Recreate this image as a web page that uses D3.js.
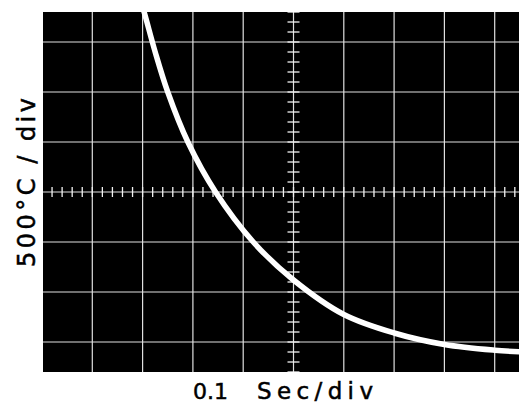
<!DOCTYPE html>
<html>
<head>
<meta charset="utf-8">
<script src="https://cdn.jsdelivr.net/npm/d3@7"></script>
<style>
  html, body { margin: 0; padding: 0; background: #fff; }
  svg { display: block; }
</style>
</head>
<body>
<div id="chart"></div>
<script>
// scope trace: time (s) vs temperature (°C)
const timeSec = [0.185, 0.203, 0.225, 0.250, 0.290, 0.345, 0.420, 0.500, 0.600, 0.700, 0.800, 0.900, 1.0]
const tempC = [4100, 3800, 3400, 3000, 2500, 2000, 1500, 1120, 775, 590, 475, 418, 388]

// graticule: 10 x 0.1 s, 8 x 500 °C
const xDivs = d3.range(0, 1.0001, 0.1)
const yDivs = d3.range(0, 4001, 500)
const xLabelA = "0.1"
const xLabelB = "Sec/div"
const yLabel = "500°C / div"

const width = 519
const height = 407

const svg = d3.select("#chart").append("svg")
  .attr("width", width)
  .attr("height", height)

const x = d3.scaleLinear().domain([0, 1.0]).range([42, 545])
const y = d3.scaleLinear().domain([0, 4000]).range([392, -8])

// visible part of the screen
const scrTop = 12, scrBottom = 372, scrLeft = 43, scrRight = width

svg.append("defs").append("clipPath").attr("id", "screen")
  .append("rect")
  .attr("x", scrLeft).attr("y", scrTop)
  .attr("width", scrRight - scrLeft).attr("height", scrBottom - scrTop)

svg.append("rect")
  .attr("x", scrLeft).attr("y", scrTop)
  .attr("width", scrRight - scrLeft).attr("height", scrBottom - scrTop)
  .attr("fill", "#000")

const g = svg.append("g").attr("clip-path", "url(#screen)")

g.selectAll("line.vgrid")
  .data(xDivs)
  .enter()
  .append("line")
  .attr("class", "vgrid")
  .attr("x1", d => x(d)).attr("x2", d => x(d))
  .attr("y1", scrTop).attr("y2", scrBottom)
  .attr("stroke", "#e0e0e0")
  .attr("stroke-width", 1.2)

g.selectAll("line.hgrid")
  .data(yDivs)
  .enter()
  .append("line")
  .attr("class", "hgrid")
  .attr("x1", scrLeft).attr("x2", scrRight)
  .attr("y1", d => y(d)).attr("y2", d => y(d))
  .attr("stroke", "#e0e0e0")
  .attr("stroke-width", 1.2)

// minor ticks on the centre axes
const xMid = 0.5, yMid = 2000
const xMinor = d3.range(0, 1.0001, 0.02)
const yMinor = d3.range(0, 4001, 100)

g.selectAll("line.xminor")
  .data(xMinor)
  .enter()
  .append("line")
  .attr("x1", d => x(d)).attr("x2", d => x(d))
  .attr("y1", y(yMid) - 5).attr("y2", y(yMid) + 5)
  .attr("stroke", "#f2f2f2")
  .attr("stroke-width", 1.3)

g.selectAll("line.yminor")
  .data(yMinor)
  .enter()
  .append("line")
  .attr("x1", x(xMid) - 6).attr("x2", x(xMid) + 6)
  .attr("y1", d => y(d)).attr("y2", d => y(d))
  .attr("stroke", "#f2f2f2")
  .attr("stroke-width", 1.3)

const trace = d3.line()
  .x(d => x(d[0]))
  .y(d => y(d[1]))
  .curve(d3.curveCatmullRom)

g.append("path")
  .datum(d3.zip(timeSec, tempC))
  .attr("d", trace)
  .attr("fill", "none")
  .attr("stroke", "#fff")
  .attr("stroke-width", 5.5)
  .attr("stroke-linecap", "round")

// labels
const label = (sel) => sel
  .attr("font-family", "DejaVu Sans, sans-serif")
  .attr("fill", "#000")
  .attr("stroke", "#000")
  .attr("stroke-width", 0.5)
  .attr("xml:space", "preserve")

svg.append("text")
  .call(label)
  .attr("transform", "translate(35, 267) rotate(-90)")
  .attr("font-size", 24)
  .attr("textLength", 169)
  .attr("lengthAdjust", "spacing")
  .text(yLabel)

svg.append("text")
  .call(label)
  .attr("x", 193)
  .attr("y", 399)
  .attr("font-size", 22)
  .text(xLabelA)

svg.append("text")
  .call(label)
  .attr("x", 257)
  .attr("y", 399)
  .attr("font-size", 23)
  .attr("textLength", 116)
  .attr("lengthAdjust", "spacing")
  .text(xLabelB)
</script>
</body>
</html>
